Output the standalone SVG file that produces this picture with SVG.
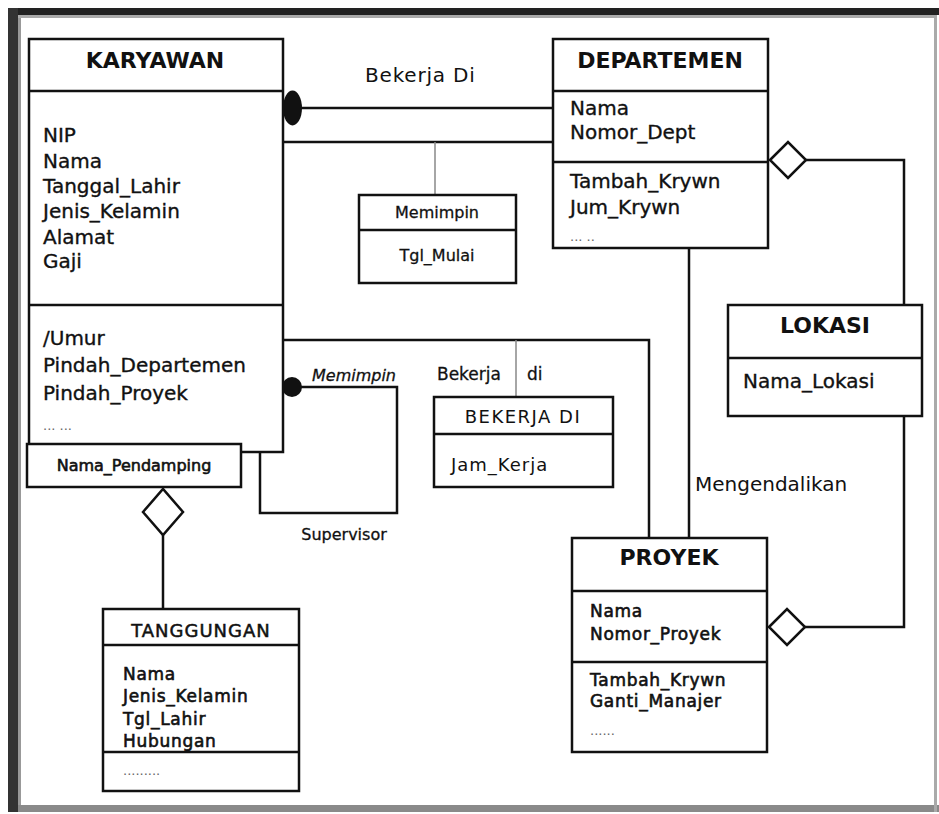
<svg xmlns="http://www.w3.org/2000/svg" width="939" height="814" viewBox="0 0 939 814">
<style>
.box{fill:#fff;stroke:#111;stroke-width:2.5}
.sep{stroke:#111;stroke-width:2.5}
.ln{fill:none;stroke:#111;stroke-width:2.5}
.assoc{fill:none;stroke:#888;stroke-width:1.5}
.dia{fill:#fff;stroke:#111;stroke-width:2.5}
.t{font-family:"DejaVu Sans",Verdana,sans-serif;fill:#111}
.title{font-size:22px;font-weight:bold;text-anchor:middle}
.attr{font-size:20px;stroke:#111;stroke-width:0.35}
.semi{font-size:17px;letter-spacing:0.7px;stroke:#111;stroke-width:0.6}
.sm{font-size:16px;stroke:#111;stroke-width:0.3}
.dots{font-family:"DejaVu Sans",sans-serif;font-size:13px;fill:#666}
</style>
<rect x="0" y="0" width="939" height="814" fill="#fff"/>
<g id="frame">
<rect x="8" y="805" width="931" height="7" fill="#8a8a8a"/>
<rect x="934" y="8" width="3" height="804" fill="#aaa"/>
<rect x="8" y="8" width="931" height="7" fill="#222"/>
<rect x="8" y="8" width="10" height="804" fill="#333"/>
<rect x="18" y="15" width="3" height="790" fill="#999"/>
<rect x="18" y="15" width="916" height="3" fill="#aaa"/>
</g>
<g id="connectors">
<path class="ln" d="M300,108 H553"/>
<ellipse cx="292.5" cy="108" rx="9.5" ry="17.5" fill="#111"/>
<path class="ln" d="M283,142 H553"/>
<path class="assoc" d="M435,142 V195"/>
<path class="ln" d="M300,387 H397 V513 H260 V452"/>
<ellipse cx="292" cy="387" rx="10" ry="10" fill="#111"/>
<path class="ln" d="M283,340 H649 V538"/>
<path class="assoc" d="M516,340 V397"/>
<path class="ln" d="M689,248 V538"/>
<path class="ln" d="M806,160 H904 V305"/>
<path class="ln" d="M904,416 V627 H805"/>
<path class="ln" d="M163,535 V609"/>
<polygon class="dia" points="770,160 788,142 806,160 788,178"/>
<polygon class="dia" points="769,627 787,609 805,627 787,645"/>
<polygon class="dia" points="143,512 163,489 183,512 163,535"/>
<text class="t" x="365" y="82" font-size="20" letter-spacing="0.8">Bekerja Di</text>
<text class="t sm" x="354" y="381" font-style="italic" text-anchor="middle">Memimpin</text>
<text class="t sm" x="344" y="540" text-anchor="middle">Supervisor</text>
<text class="t" x="437" y="380" font-size="17" stroke="#111" stroke-width="0.3">Bekerja</text>
<text class="t" x="527" y="380" font-size="17" stroke="#111" stroke-width="0.3">di</text>
<text class="t" x="695" y="491" font-size="20">Mengendalikan</text>
</g>
<g id="karyawan">
<rect class="box" x="29" y="39" width="254" height="413"/>
<line class="sep" x1="29" y1="91" x2="283" y2="91"/>
<line class="sep" x1="29" y1="305" x2="283" y2="305"/>
<text class="t title" x="155" y="68">KARYAWAN</text>
<text class="t attr" x="43" y="142">NIP</text>
<text class="t attr" x="43" y="168">Nama</text>
<text class="t attr" x="43" y="193">Tanggal_Lahir</text>
<text class="t attr" x="43" y="218">Jenis_Kelamin</text>
<text class="t attr" x="43" y="244">Alamat</text>
<text class="t attr" x="43" y="268">Gaji</text>
<text class="t attr" x="43" y="345">/Umur</text>
<text class="t attr" x="43" y="372">Pindah_Departemen</text>
<text class="t attr" x="43" y="400">Pindah_Proyek</text>
<text class="dots" x="43" y="430">... ...</text>
</g>
<g id="nama-pendamping">
<rect class="box" x="27" y="444" width="214" height="43"/>
<text class="t" x="134" y="471" font-size="16" stroke="#111" stroke-width="0.6" text-anchor="middle">Nama_Pendamping</text>
</g>
<g id="departemen">
<rect class="box" x="553" y="39" width="215" height="209"/>
<line class="sep" x1="553" y1="91" x2="768" y2="91"/>
<line class="sep" x1="553" y1="162" x2="768" y2="162"/>
<text class="t title" x="660" y="68">DEPARTEMEN</text>
<text class="t attr" x="570" y="115">Nama</text>
<text class="t attr" x="570" y="139">Nomor_Dept</text>
<text class="t attr" x="570" y="188">Tambah_Krywn</text>
<text class="t attr" x="570" y="214">Jum_Krywn</text>
<text class="dots" x="570" y="241">... ..</text>
</g>
<g id="memimpin">
<rect class="box" x="359" y="195" width="157" height="88"/>
<line class="sep" x1="359" y1="230" x2="516" y2="230"/>
<text class="t sm" x="437" y="218" text-anchor="middle">Memimpin</text>
<text class="t sm" x="437" y="261" text-anchor="middle">Tgl_Mulai</text>
</g>
<g id="lokasi">
<rect class="box" x="728" y="305" width="194" height="111"/>
<line class="sep" x1="728" y1="358" x2="922" y2="358"/>
<text class="t title" x="825" y="333">LOKASI</text>
<text class="t attr" x="743" y="388">Nama_Lokasi</text>
</g>
<g id="bekerja-di">
<rect class="box" x="434" y="397" width="179" height="90"/>
<line class="sep" x1="434" y1="434" x2="613" y2="434"/>
<text class="t" x="523" y="423" font-size="18" letter-spacing="1.5" text-anchor="middle">BEKERJA DI</text>
<text class="t" x="451" y="471" font-size="18" letter-spacing="1">Jam_Kerja</text>
</g>
<g id="proyek">
<rect class="box" x="572" y="538" width="195" height="214"/>
<line class="sep" x1="572" y1="591" x2="767" y2="591"/>
<line class="sep" x1="572" y1="662" x2="767" y2="662"/>
<text class="t title" x="669" y="565">PROYEK</text>
<text class="t semi" x="590" y="617">Nama</text>
<text class="t semi" x="590" y="640">Nomor_Proyek</text>
<text class="t semi" x="590" y="686">Tambah_Krywn</text>
<text class="t semi" x="590" y="707">Ganti_Manajer</text>
<text class="dots" x="590" y="735">......</text>
</g>
<g id="tanggungan">
<rect class="box" x="103" y="609" width="196" height="182"/>
<line class="sep" x1="103" y1="645" x2="299" y2="645"/>
<line class="sep" x1="103" y1="752" x2="299" y2="752"/>
<text class="t" x="201" y="637" font-size="18" letter-spacing="1" stroke="#111" stroke-width="0.5" text-anchor="middle">TANGGUNGAN</text>
<text class="t semi" x="123" y="680">Nama</text>
<text class="t semi" x="123" y="702">Jenis_Kelamin</text>
<text class="t semi" x="123" y="725">Tgl_Lahir</text>
<text class="t semi" x="123" y="747">Hubungan</text>
<text class="dots" x="123" y="775">.........</text>
</g>
</svg>
